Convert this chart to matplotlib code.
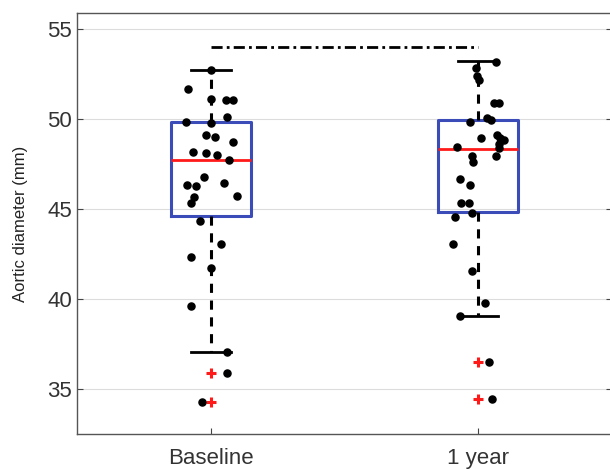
import matplotlib.pyplot as plt
import numpy as np

plt.rcParams['font.family'] = ['Liberation Sans', 'DejaVu Sans']

groups = ['Baseline', '1 year']

# individual measurements (mm) and horizontal jitter for each point
baseline_vals = [52.72, 51.7, 51.1, 51.05, 51.05, 50.13, 49.85, 49.76, 49.1, 49.0,
                 48.74, 48.15, 48.13, 48.0, 47.72, 46.76, 46.33, 46.26, 46.44, 45.74,
                 45.65, 45.33, 44.33, 43.06, 42.35, 41.74, 39.63, 37.04, 35.89, 34.26]
baseline_jit = [0.0, -0.085, 0.0, 0.056, 0.082, 0.062, -0.093, 0.001, -0.016, 0.016,
                0.085, -0.067, -0.019, 0.022, 0.067, -0.026, -0.09, -0.056, 0.049, 0.098,
                -0.063, -0.075, -0.04, 0.038, -0.075, 0.0, -0.075, 0.062, 0.062, -0.032]

year1_vals = [53.2, 52.87, 52.41, 52.18, 50.87, 50.87, 49.82, 50.04, 49.94, 49.13,
              48.98, 48.85, 48.93, 48.61, 48.37, 48.46, 47.93, 47.96, 47.63, 46.67,
              46.33, 45.33, 45.33, 44.76, 44.54, 43.07, 41.56, 39.76, 39.04, 36.52,
              34.44]
year1_jit = [0.067, -0.01, -0.005, 0.004, 0.06, 0.078, -0.031, 0.031, 0.047, 0.07,
             0.082, 0.098, 0.011, 0.076, 0.076, -0.079, 0.066, -0.024, -0.019, -0.07,
             -0.032, -0.063, -0.036, -0.025, -0.087, -0.096, -0.024, 0.025, -0.067, 0.039,
             0.05]

# box statistics as drawn
q1 = [44.6, 44.83]
med = [47.72, 48.33]
q3 = [49.83, 49.94]
whislo = [37.06, 39.06]
whishi = [52.72, 53.22]
fliers = [[35.89, 34.26], [36.52, 34.44]]

sig_y = 54.0

fig = plt.figure(figsize=(6.1, 4.69), dpi=100)
ax = fig.add_axes([77 / 610, 35 / 469, 535 / 610, 421 / 469])

stats = []
for i in range(2):
    stats.append(dict(med=med[i], q1=q1[i], q3=q3[i], whislo=whislo[i],
                      whishi=whishi[i], fliers=fliers[i], label=groups[i]))

ax.bxp(stats, positions=[1, 2], widths=0.3, showfliers=True,
       boxprops=dict(color='#3b4cb8', linewidth=2.2),
       medianprops=dict(color='#ff1a1a', linewidth=2),
       whiskerprops=dict(color='black', linewidth=2.2, linestyle=(0, (3, 2.5))),
       capprops=dict(color='black', linewidth=2),
       flierprops=dict(marker='+', markeredgecolor='#ff1a1a', markersize=7,
                       markeredgewidth=2.2, linestyle='none'))

ax.scatter(1 + np.array(baseline_jit), baseline_vals, s=26, color='black', zorder=5)
ax.scatter(2 + np.array(year1_jit), year1_vals, s=26, color='black', zorder=5)

# significance line
ax.plot([1, 2], [sig_y, sig_y], color='black', linewidth=2, linestyle=(0, (4, 1.5, 1, 1.5)))

ax.set_xlim(0.5, 2.5)
ax.set_ylim(32.5, 55.9)
ax.set_yticks([35, 40, 45, 50, 55])
ax.set_xticks([1, 2])
ax.set_xticklabels(groups)
ax.set_ylabel('Aortic diameter (mm)', fontsize=12, color='#222222', labelpad=14)
ax.yaxis.grid(True, color='#dcdcdc', linewidth=0.8)
ax.set_axisbelow(True)
ax.tick_params(direction='in', length=4, width=0.8, colors='#444444',
               labelcolor='#333333', labelsize=16, right=True, top=False)
ax.tick_params(axis='x', pad=10)
for s in ax.spines.values():
    s.set_color('#555555')
    s.set_linewidth(1)

plt.savefig('out.png', dpi=100)
